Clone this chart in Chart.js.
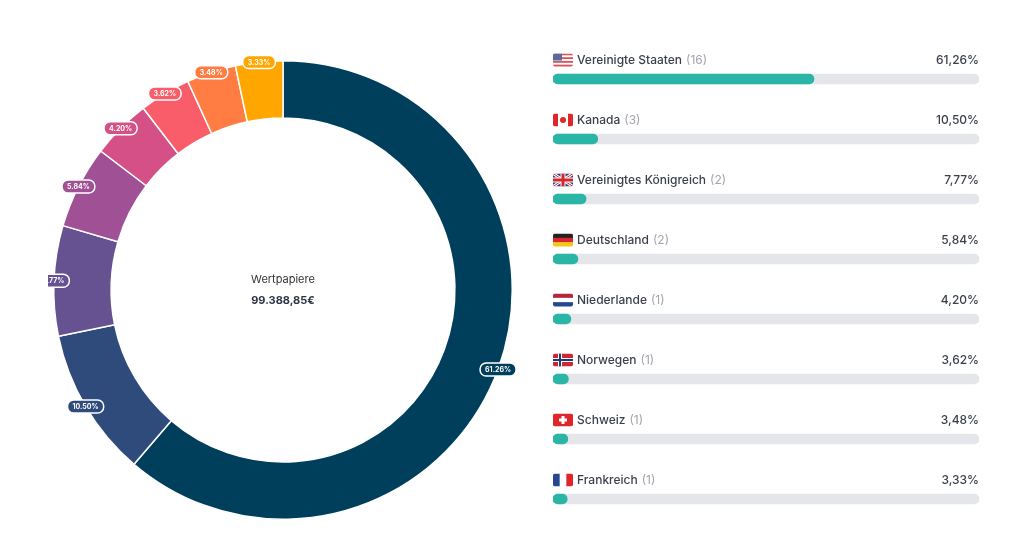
<!DOCTYPE html>
<html><head><meta charset="utf-8">
<script src="https://cdn.jsdelivr.net/npm/chart.js@4"></script>
<style>
body{margin:0;background:#fff;font-family:Inter,"Noto Sans",sans-serif;}
#d{position:absolute;left:48px;top:55px;width:470px;height:470px;}
#b{position:absolute;left:553px;top:49px;width:426px;height:480px;}
</style></head><body>
<div id="d"><canvas id="dc"></canvas></div>
<div id="b"><canvas id="bc"></canvas></div>
<script>
const countries=["Vereinigte Staaten","Kanada","Vereinigtes Königreich","Deutschland","Niederlande","Norwegen","Schweiz","Frankreich"];
const counts=[16,3,2,2,1,1,1,1];
const shares=[61.26,10.50,7.77,5.84,4.20,3.62,3.48,3.33];
const colors=["#003f5c","#2f4b7c","#665191","#a05195","#d45087","#f95d6a","#ff7c43","#ffa600"];
const centerTitle="Wertpapiere", centerValue="99.388,85€";
const fmt=v=>v.toFixed(2).replace('.',',')+'%';

const donutLabels={id:'dl',afterDatasetsDraw(c){
  const ctx=c.ctx, meta=c.getDatasetMeta(0);
  meta.data.forEach((a,i)=>{
    const m=(a.startAngle+a.endAngle)/2, r=a.outerRadius;
    const x=a.x+Math.cos(m)*r, y=a.y+Math.sin(m)*r;
    const t=shares[i].toFixed(2)+'%';
    ctx.font='bold 7px Inter';
    const w=ctx.measureText(t).width+10,h=13;
    ctx.beginPath();ctx.roundRect(x-w/2,y-h/2,w,h,6);
    ctx.fillStyle=colors[i];ctx.fill();ctx.strokeStyle='#fff';ctx.lineWidth=1.5;ctx.stroke();
    ctx.fillStyle='#fff';ctx.textAlign='center';ctx.textBaseline='middle';ctx.fillText(t,x,y+0.5);
  });
  const a=meta.data[0];
  ctx.fillStyle='#333';ctx.textAlign='center';ctx.font='11px Inter';ctx.fillText(centerTitle,a.x,a.y-10);
  ctx.font='bold 11px Inter';ctx.fillStyle='#2c3345';ctx.fillText(centerValue,a.x,a.y+11);
}};
new Chart(document.getElementById('dc'),{type:'doughnut',
 data:{labels:countries,datasets:[{data:shares,backgroundColor:colors,borderColor:'#fff',borderWidth:1.5}]},
 options:{responsive:true,maintainAspectRatio:false,animation:false,cutout:'75%',layout:{padding:5},
  plugins:{legend:{display:false},tooltip:{enabled:false}}},plugins:[donutLabels]});

function flag(ctx,i,x,y){
  const w=20,h=13;ctx.save();ctx.beginPath();ctx.roundRect(x,y,w,h,2);ctx.clip();
  const f=[
   ()=>{for(let k=0;k<7;k++){ctx.fillStyle=k%2?'#fff':'#d9535b';ctx.fillRect(x,y+k*h/7,w,h/7+0.5);}ctx.fillStyle='#5a6a9c';ctx.fillRect(x,y,9,7);},
   ()=>{ctx.fillStyle='#fff';ctx.fillRect(x,y,w,h);ctx.fillStyle='#e0262b';ctx.fillRect(x,y,5,h);ctx.fillRect(x+15,y,5,h);ctx.beginPath();ctx.arc(x+10,y+6.5,3,0,7);ctx.fill();},
   ()=>{ctx.fillStyle='#283e7c';ctx.fillRect(x,y,w,h);ctx.strokeStyle='#fff';ctx.lineWidth=3;ctx.beginPath();ctx.moveTo(x,y);ctx.lineTo(x+w,y+h);ctx.moveTo(x+w,y);ctx.lineTo(x,y+h);ctx.stroke();ctx.strokeStyle='#d3262f';ctx.lineWidth=1;ctx.stroke();ctx.fillStyle='#fff';ctx.fillRect(x+7.5,y,5,h);ctx.fillRect(x,y+4,w,5);ctx.fillStyle='#d3262f';ctx.fillRect(x+8.5,y,3,h);ctx.fillRect(x,y+5,w,3);},
   ()=>{['#222','#d8262f','#f5c518'].forEach((c,k)=>{ctx.fillStyle=c;ctx.fillRect(x,y+k*h/3,w,h/3+0.5);});},
   ()=>{['#b2283a','#fff','#26468e'].forEach((c,k)=>{ctx.fillStyle=c;ctx.fillRect(x,y+k*h/3,w,h/3+0.5);});},
   ()=>{ctx.fillStyle='#c8283a';ctx.fillRect(x,y,w,h);ctx.fillStyle='#fff';ctx.fillRect(x+5,y,4,h);ctx.fillRect(x,y+4.5,w,4);ctx.fillStyle='#1e3a78';ctx.fillRect(x+6,y,2,h);ctx.fillRect(x,y+5.5,w,2);},
   ()=>{ctx.fillStyle='#e0262b';ctx.fillRect(x,y,w,h);ctx.fillStyle='#fff';ctx.fillRect(x+8.5,y+2.5,3,8);ctx.fillRect(x+6,y+5,8,3);},
   ()=>{['#26468e','#fff','#e0262b'].forEach((c,k)=>{ctx.fillStyle=c;ctx.fillRect(x+k*w/3,y,w/3+0.5,h);});}
  ];f[i]();ctx.restore();
}
const rowText={id:'rt',afterDraw(c){
  const ctx=c.ctx,meta=c.getDatasetMeta(1),L=c.chartArea.left,R=c.chartArea.right;
  meta.data.forEach((b,i)=>{
    const y=b.y-19;
    flag(ctx,i,L,y-6.5);
    ctx.textBaseline='middle';ctx.textAlign='left';ctx.font='500 12px Inter';ctx.fillStyle='#3a3f4b';
    ctx.fillText(countries[i],L+24,y);
    const w=ctx.measureText(countries[i]).width;
    ctx.fillStyle='#a0a4ab';ctx.font='12px Inter';ctx.fillText('('+counts[i]+')',L+28+w,y);
    ctx.textAlign='right';ctx.fillStyle='#3a3f4b';ctx.font='500 12px Inter';ctx.fillText(fmt(shares[i]),R,y);
  });
}};
new Chart(document.getElementById('bc'),{type:'bar',
 data:{labels:countries,datasets:[
  {data:shares.map(()=>100),backgroundColor:'#e4e6ea',barThickness:10,borderRadius:5,borderSkipped:false,grouped:false,order:2},
  {data:shares,backgroundColor:'#2bb5a6',barThickness:10,borderRadius:5,borderSkipped:false,grouped:false,order:1}]},
 options:{indexAxis:'y',responsive:true,maintainAspectRatio:false,animation:false,layout:{padding:0},
  scales:{x:{display:false,min:0,max:100},y:{display:false}},
  plugins:{legend:{display:false},tooltip:{enabled:false}}},plugins:[rowText]});
</script></body></html>
